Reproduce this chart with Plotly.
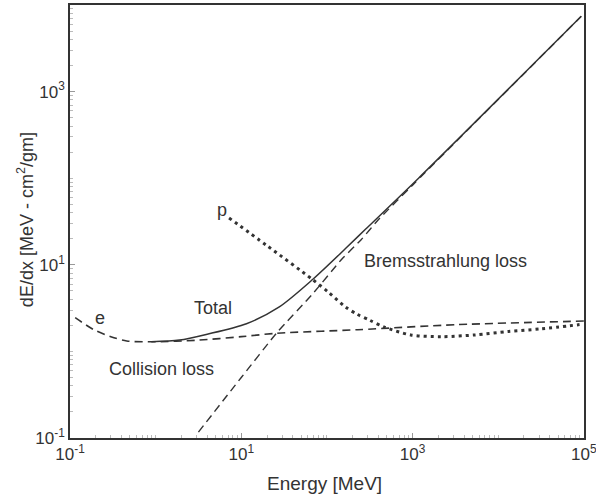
import plotly.graph_objects as go

# Electron collision loss (dashed)
coll_x = [0.115, 0.19, 0.30, 0.46, 0.89, 3.2, 10, 26, 230, 3400, 100000]
coll_y = [2.45, 1.78, 1.48, 1.32, 1.29, 1.35, 1.48, 1.62, 1.78, 2.04, 2.24]

# Total (solid)
total_x = [0.89, 1.9, 4.0, 11.5, 27.5, 68, 166, 282, 1175, 93300]
total_y = [1.29, 1.35, 1.58, 2.09, 3.24, 6.76, 15.5, 25.7, 100, 7410]

# Bremsstrahlung loss (dashed)
brem_x = [3.16, 10, 26.3, 67.6, 148, 251, 398, 1000, 93300]
brem_y = [0.117, 0.50, 1.66, 4.57, 11.5, 19.5, 33.1, 83, 7400]

# Proton (dotted)
p_x = [7.2, 20, 68, 105, 166, 224, 316, 468, 955, 2190, 5370, 13200, 31600, 89100]
p_y = [34.7, 16.6, 6.76, 4.79, 3.24, 2.69, 2.29, 1.91, 1.55, 1.48, 1.55, 1.70, 1.82, 2.04]

x_tickvals = [0.1, 10, 1000, 100000]
x_ticktext = ["10<sup>-1</sup>", "10<sup>1</sup>", "10<sup>3</sup>", "10<sup>5</sup>"]
y_tickvals = [0.1, 10, 1000]
y_ticktext = ["10<sup>-1</sup>", "10<sup>1</sup>", "10<sup>3</sup>"]

INK = "#333333"
FONT = "Liberation Sans"

fig = go.Figure()
fig.add_trace(go.Scatter(x=coll_x, y=coll_y, mode="lines",
                         line=dict(color=INK, width=1.6, dash="8px,5px", shape="spline", smoothing=0.8)))
fig.add_trace(go.Scatter(x=brem_x, y=brem_y, mode="lines",
                         line=dict(color=INK, width=1.4, dash="8px,5px", shape="spline", smoothing=0.6)))
fig.add_trace(go.Scatter(x=total_x, y=total_y, mode="lines",
                         line=dict(color=INK, width=1.5, shape="spline", smoothing=0.8)))
fig.add_trace(go.Scatter(x=p_x, y=p_y, mode="lines",
                         line=dict(color=INK, width=3, dash="3px,4px", shape="spline", smoothing=0.8)))

axis_common = dict(
    type="log", showgrid=False, zeroline=False,
    showline=True, linecolor=INK, linewidth=1.5, mirror=True,
    ticks="inside", ticklen=5, tickcolor="#999999", tickwidth=1,
    minor=dict(ticks="inside", ticklen=3, tickcolor="#bbbbbb", dtick="D1"),
    tickfont=dict(family=FONT, size=17, color=INK),
    tickmode="array", ticklabeloverflow="allow", automargin=False,
)

fig.update_xaxes(range=[-1, 5.002], tickvals=x_tickvals, ticktext=x_ticktext, **axis_common)
fig.update_yaxes(range=[-1, 4], tickvals=y_tickvals, ticktext=y_ticktext, **axis_common)

ann_font = dict(family=FONT, size=18, color=INK)
annotations = [
    dict(x=-0.65, y=0.385, text="e"),
    dict(x=0.67, y=0.50, text="Total"),
    dict(x=0.07, y=-0.20, text="Collision loss"),
    dict(x=0.77, y=1.63, text="p"),
    dict(x=3.39, y=1.04, text="Bremsstrahlung loss"),
]
for a in annotations:
    fig.add_annotation(xref="x", yref="y", showarrow=False, font=ann_font, **a)

fig.add_annotation(xref="paper", yref="paper", x=0.495, y=-0.105, yanchor="middle",
                   text="Energy [MeV]", showarrow=False,
                   font=dict(family=FONT, size=19, color=INK))
fig.add_annotation(xref="paper", yref="paper", x=-0.086, y=0.505, xanchor="center",
                   text="dE/dx [MeV - cm<sup>2</sup>/gm]", textangle=-90, showarrow=False,
                   font=dict(family=FONT, size=18, color=INK))

fig.update_layout(
    width=596, height=497,
    margin=dict(l=70, r=12, t=5, b=59),
    plot_bgcolor="white", paper_bgcolor="white",
    showlegend=False,
)

fig.write_html("out.html", config={"displayModeBar": False},
               post_script="document.body.style.margin='0';")
